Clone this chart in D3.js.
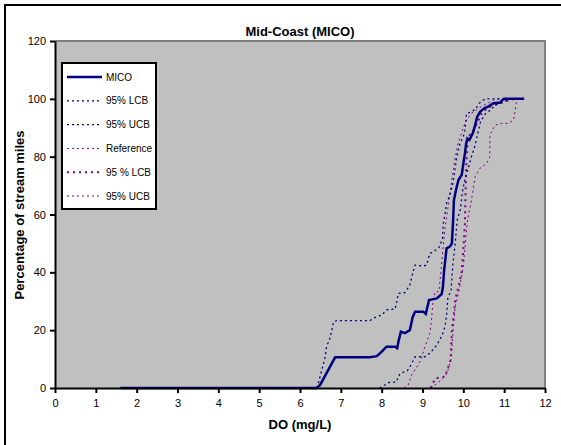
<!DOCTYPE html>
<html>
<head>
<meta charset="utf-8">
<script src="https://cdn.jsdelivr.net/npm/d3@7"></script>
<style>
  body { margin: 0; background: #fff; }
  text { font-family: Arial, "Liberation Sans", sans-serif; }
</style>
</head>
<body>
<div id="chart"></div>
<script>
// DO (mg/L) vs percentage of stream miles
var mico = [[1.6,0],[6.4,0],[6.49,1],[6.86,10.6],[7.71,10.6],[7.88,11],[7.96,12],[8.12,14.3],[8.33,14.3],[8.38,13.8],[8.41,16],[8.47,19.5],[8.57,19],[8.69,20],[8.76,24.6],[8.82,26.4],[9.02,26.4],[9.08,25.6],[9.16,30.4],[9.35,31],[9.47,32.5],[9.5,35],[9.53,40.8],[9.59,48.3],[9.67,48.9],[9.72,50],[9.75,58],[9.77,65],[9.82,68.5],[9.88,71.9],[9.96,73.7],[10.04,81.2],[10.07,84.6],[10.1,86.3],[10.15,85.8],[10.23,88.1],[10.29,90.9],[10.34,93.8],[10.41,95.5],[10.51,96.7],[10.61,97.3],[10.74,98.5],[10.9,98.7],[10.96,99.6],[11.0,100],[11.49,100]];
var micoLcb = [[7.95,0],[8.0,0.4],[8.2,2],[8.35,2],[8.45,5],[8.63,6],[8.7,7.6],[8.82,10.8],[9.06,10.8],[9.18,12],[9.33,14.5],[9.43,16.8],[9.5,19],[9.55,21.2],[9.59,25.2],[9.62,31],[9.7,33.9],[9.74,42],[9.8,50],[9.85,58],[9.93,62],[9.98,68],[10.05,73],[10.12,76],[10.2,80],[10.29,84],[10.35,88],[10.42,92],[10.52,94.5],[10.65,96],[10.8,98],[11.0,99],[11.1,100],[11.45,100]];
var micoUcb = [[6.42,0],[6.49,3.9],[6.61,10.3],[6.65,14.3],[6.72,16.6],[6.78,20],[6.82,22.9],[6.9,23.3],[7.71,23.3],[7.84,24.4],[8.0,25.2],[8.12,27],[8.33,27.3],[8.41,32.7],[8.57,33],[8.69,35.6],[8.76,39.7],[8.82,42.5],[9.02,42.2],[9.1,42.5],[9.18,46.5],[9.39,48.3],[9.43,49.4],[9.49,51.8],[9.51,57],[9.55,60],[9.59,63.9],[9.67,66.7],[9.73,70],[9.78,74],[9.84,80],[9.92,84.6],[10.0,87],[10.04,89.2],[10.08,95],[10.2,95.5],[10.3,96.5],[10.39,98.5],[10.53,100],[10.9,100]];
var reference = [[9.2,0],[9.4,2],[9.6,5],[9.7,10],[9.75,20],[9.8,28],[9.9,34],[10.0,42],[10.05,50],[10.1,58],[10.2,65],[10.29,73.1],[10.41,76],[10.57,77.7],[10.65,80],[10.65,87.5],[10.78,90.9],[10.94,91.5],[11.1,91.5],[11.23,92.7],[11.27,96],[11.31,100]];
var refLcb = [[9.2,0],[9.31,3.3],[9.55,3.9],[9.69,9.7],[9.72,20],[9.77,25.8],[9.8,30.4],[9.9,36.2],[9.96,40.2],[10.0,48],[10.04,57],[10.05,65],[10.07,76.5],[10.1,84],[10.12,87],[10.25,89],[10.45,95],[10.6,97],[10.8,98],[11.0,99],[11.27,100]];
var refUcb = [[8.55,0],[8.65,1],[8.73,4.5],[8.85,7],[8.97,10],[9.06,14.3],[9.18,18.9],[9.22,23.5],[9.26,30.4],[9.31,33.3],[9.4,33.3],[9.45,40],[9.5,48],[9.55,55],[9.62,62],[9.7,70],[9.78,78],[9.86,84],[9.95,88],[10.05,92],[10.2,95],[10.4,97],[10.6,98.5],[10.8,100],[11.2,100]];

var xTicks = [0,1,2,3,4,5,6,7,8,9,10,11,12];
var yTicks = [0,20,40,60,80,100,120];
var seriesNames = ['MICO','95% LCB','95% UCB','Reference','95 % LCB','95% UCB'];

var W = 561, H = 445;
var plotLeft = 55, plotRight = 545, plotTop = 41, plotBottom = 388;

var svg = d3.select('#chart').append('svg')
    .attr('width', W)
    .attr('height', H);

svg.append('rect')
    .attr('x', 0).attr('y', 0)
    .attr('width', W).attr('height', H)
    .attr('fill', '#fff');

// outer chart frame
svg.append('rect')
    .attr('x', 5).attr('y', 5)
    .attr('width', 700).attr('height', 600)
    .attr('fill', 'none')
    .attr('stroke', '#000')
    .attr('stroke-width', 2);

var x = d3.scaleLinear().domain([0, 12]).range([plotLeft, plotRight]);
var y = d3.scaleLinear().domain([0, 120]).range([plotBottom, plotTop]);

// plot area
svg.append('rect')
    .attr('x', plotLeft).attr('y', plotTop)
    .attr('width', plotRight - plotLeft).attr('height', plotBottom - plotTop)
    .attr('fill', '#c0c0c0');

svg.append('path')
    .attr('d', 'M' + plotLeft + ',' + plotTop + 'H' + plotRight + 'V' + plotBottom)
    .attr('fill', 'none')
    .attr('stroke', '#808080')
    .attr('stroke-width', 2);

var line = d3.line()
    .x(function(d) { return x(d[0]); })
    .y(function(d) { return y(d[1]); });

var series = [
    { name: seriesNames[5], data: refUcb, color: '#800080', width: 1, dash: '2,3' },
    { name: seriesNames[4], data: refLcb, color: '#800080', width: 2, dash: '2,4' },
    { name: seriesNames[3], data: reference, color: '#800080', width: 1, dash: '2,3' },
    { name: seriesNames[2], data: micoUcb, color: '#000080', width: 1.3, dash: '2,3' },
    { name: seriesNames[1], data: micoLcb, color: '#000080', width: 1.3, dash: '2,3' },
    { name: seriesNames[0], data: mico, color: '#000080', width: 2.5, dash: null }
];

svg.append('g').selectAll('path')
    .data(series)
    .enter().append('path')
    .attr('d', function(d) { return line(d.data); })
    .attr('fill', 'none')
    .attr('stroke', function(d) { return d.color; })
    .attr('stroke-width', function(d) { return d.width; })
    .attr('stroke-dasharray', function(d) { return d.dash; });

// axes
var xAxis = svg.append('g')
    .attr('transform', 'translate(0,' + plotBottom + ')')
    .call(d3.axisBottom(x).tickValues(xTicks).tickSize(5).tickSizeOuter(0).tickPadding(6));
var yAxis = svg.append('g')
    .attr('transform', 'translate(' + plotLeft + ',0)')
    .call(d3.axisLeft(y).tickValues(yTicks).tickSize(5).tickSizeOuter(0).tickPadding(4));

[xAxis, yAxis].forEach(function(a) {
    a.select('.domain').attr('stroke', '#000').attr('stroke-width', 2);
    a.selectAll('.tick line').attr('stroke', '#000').attr('stroke-width', 2);
    a.selectAll('.tick text').attr('fill', '#000').style('font-size', '11px')
        .style('font-family', 'Arial, "Liberation Sans", sans-serif');
});

// titles
svg.append('text')
    .attr('x', 300).attr('y', 36)
    .attr('text-anchor', 'middle')
    .style('font-size', '13px').style('font-weight', 'bold')
    .text('Mid-Coast (MICO)');

svg.append('text')
    .attr('x', 300).attr('y', 429)
    .attr('text-anchor', 'middle')
    .style('font-size', '13px').style('font-weight', 'bold')
    .text('DO (mg/L)');

svg.append('text')
    .attr('transform', 'translate(24,215) rotate(-90)')
    .attr('text-anchor', 'middle')
    .style('font-size', '13px').style('font-weight', 'bold')
    .text('Percentage of stream miles');

// legend
var legend = svg.append('g').attr('transform', 'translate(62,63)');
legend.append('rect')
    .attr('width', 94).attr('height', 146)
    .attr('fill', '#fff')
    .attr('stroke', '#000')
    .attr('stroke-width', 2);

var legendItems = series.slice().reverse();
var item = legend.selectAll('.item')
    .data(legendItems)
    .enter().append('g')
    .attr('class', 'item')
    .attr('transform', function(d, i) { return 'translate(0,' + (14 + i * 23.8) + ')'; });

item.append('line')
    .attr('x1', 5).attr('x2', 40)
    .attr('stroke', function(d) { return d.color; })
    .attr('stroke-width', function(d) { return d.width; })
    .attr('stroke-dasharray', function(d) { return d.dash; });

item.append('text')
    .attr('x', 44).attr('y', 3.5)
    .style('font-size', '10px')
    .text(function(d) { return d.name; });
</script>
</body>
</html>
